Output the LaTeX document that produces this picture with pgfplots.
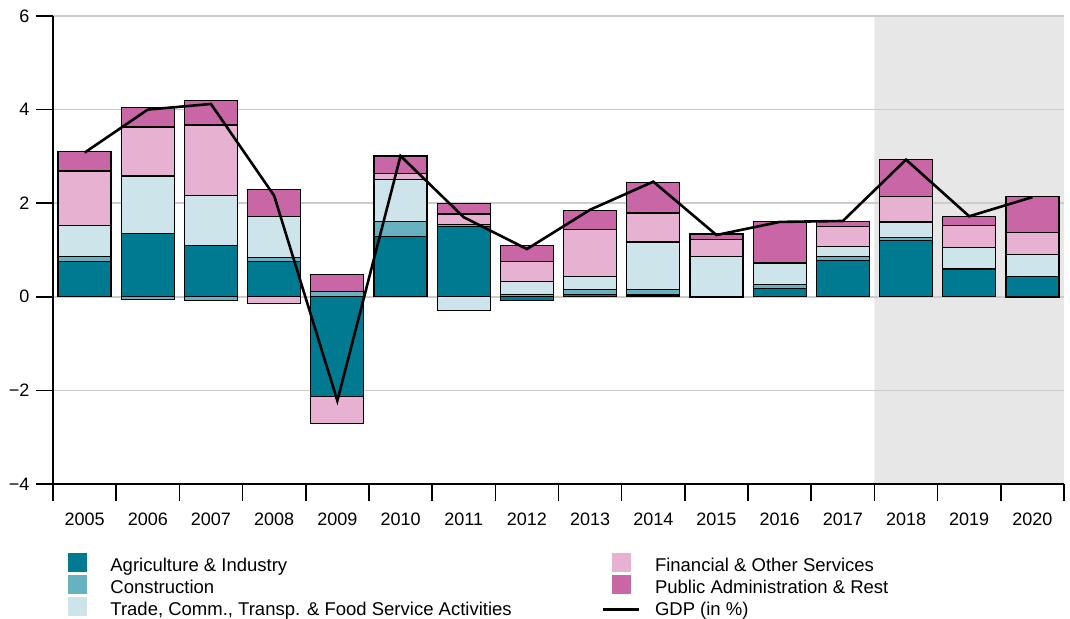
\documentclass[border=0pt]{standalone}
\usepackage{fontspec}
\setmainfont{Liberation Sans}
\usepackage{pgfplots}
\usepackage{pgfplotstable}
\pgfplotsset{compat=1.18}

\definecolor{agcol}{HTML}{007A91}
\definecolor{cocol}{HTML}{67B1C1}
\definecolor{trcol}{HTML}{CDE5EA}
\definecolor{ficol}{HTML}{E7B2D1}
\definecolor{pucol}{HTML}{C966A5}
\definecolor{gridgray}{HTML}{CCCCCC}
\definecolor{shade}{HTML}{E7E7E7}

% positive contributions
\pgfplotstableread{
x  ag    co    tr    fi    pu
0  0.75  0.11  0.66  1.17  0.41
1  1.36  0.00  1.22  1.05  0.42
2  1.09  0.00  1.07  1.51  0.52
3  0.76  0.08  0.87  0.00  0.59
4  0.00  0.11  0.00  0.00  0.36
5  1.28  0.33  0.89  0.14  0.37
6  1.50  0.04  0.00  0.23  0.22
7  0.00  0.05  0.28  0.43  0.33
8  0.05  0.10  0.28  1.00  0.41
9  0.04  0.12  1.01  0.62  0.65
10 0.00  0.00  0.86  0.37  0.11
11 0.17  0.09  0.45  0.01  0.89
12 0.78  0.08  0.22  0.42  0.11
13 1.20  0.07  0.33  0.54  0.79
14 0.59  0.01  0.45  0.47  0.20
15 0.43  0.00  0.48  0.46  0.77
}\postab

% negative contributions
\pgfplotstableread{
x  ag     co     tr     fi     pu
0  0.00   0.00   0.00   0.00   0.00
1  0.00  -0.06   0.00   0.00   0.00
2  0.00  -0.08   0.00   0.00   0.00
3  0.00   0.00   0.00  -0.15   0.00
4 -2.13   0.00   0.00  -0.57   0.00
5  0.00   0.00   0.00   0.00   0.00
6  0.00   0.00  -0.30   0.00   0.00
7 -0.08   0.00   0.00   0.00   0.00
8  0.00   0.00   0.00   0.00   0.00
9  0.00   0.00   0.00   0.00   0.00
10 -0.02  0.00   0.00   0.00   0.00
11 0.00   0.00   0.00   0.00   0.00
12 0.00   0.00   0.00   0.00   0.00
13 0.00   0.00   0.00   0.00   0.00
14 0.00   0.00   0.00   0.00   0.00
15 0.00  -0.02   0.00   0.00   0.00
}\negtab

% GDP growth
\pgfplotstableread{
x  gdp
0  3.08
1  4.00
2  4.12
3  2.16
4  -2.22
5  3.01
6  1.70
7  1.02
8  1.86
9  2.46
10 1.32
11 1.60
12 1.62
13 2.93
14 1.72
15 2.13
}\gdptab

\pgfplotsset{
  base/.style={
    width=1011pt, height=468pt, scale only axis,
    xmin=-0.5, xmax=15.5, ymin=-4, ymax=6,
    at={(0pt,0pt)}, anchor=south west,
  },
  barsty/.style={fill=#1, draw=black, line width=1.2pt},
}

\begin{document}
\begin{tikzpicture}

% shaded forecast region
\begin{axis}[base, hide axis]
  \addplot[fill=shade, draw=none] coordinates {(12.5,-4) (12.5,6) (15.5,6) (15.5,-4) (12.5,-4)};
\end{axis}

% main axis with positive stacks
\begin{axis}[base,
  ybar stacked, bar width=53pt,
  axis x line*=bottom, axis y line*=left,
  axis line style={line width=1.6pt, black},
  tick align=outside, major tick length=17pt,
  tick style={line width=1.6pt, black},
  xtick={-0.5,0.5,...,15.5},
  x tick label as interval,
  xticklabels={2005,2006,2007,2008,2009,2010,2011,2012,2013,2014,2015,2016,2017,2018,2019,2020},
  xticklabel shift=8pt,
  yticklabel shift=3pt,
  ytick={-4,-2,0,2,4,6},
  yticklabels={−4,−2,0,2,4,6},
  ymajorgrids, grid style={line width=1.5pt, gridgray},
  tick label style={font=\fontsize{18}{21.6}\selectfont},
  legend columns=2,
  legend cell align=left,
  legend style={at={(axis description cs:0.01434,-0.1474)}, anchor=north west,
    draw=none, fill=none, inner sep=0pt, outer sep=0pt,
    column sep=0pt, row sep=1pt,
    cells={anchor=base west},
    nodes={inner sep=0pt, text height=15pt, text depth=3pt},
    font=\fontsize{18.5}{22}\selectfont},
]
  \addplot[barsty=agcol, forget plot] table[x=x, y=ag] {\postab};
  \addplot[barsty=cocol, forget plot] table[x=x, y=co] {\postab};
  \addplot[barsty=trcol, forget plot] table[x=x, y=tr] {\postab};
  \addplot[barsty=ficol, forget plot] table[x=x, y=fi] {\postab};
  \addplot[barsty=pucol, forget plot] table[x=x, y=pu] {\postab};

  \addlegendimage{legend image code/.code={\fill[agcol] (-9pt,0pt) rectangle (9pt,18pt);}}
  \addlegendentry{\hspace*{24.5pt}\makebox[491pt][l]{Agriculture \& Industry}}
  \addlegendimage{legend image code/.code={\fill[ficol] (-9pt,0pt) rectangle (9pt,18pt);}}
  \addlegendentry{\hspace*{15pt}Financial \& Other Services}
  \addlegendimage{legend image code/.code={\fill[cocol] (-9pt,0pt) rectangle (9pt,18pt);}}
  \addlegendentry{\hspace*{24.5pt}\makebox[491pt][l]{Construction}}
  \addlegendimage{legend image code/.code={\fill[pucol] (-9pt,0pt) rectangle (9pt,18pt);}}
  \addlegendentry{\hspace*{15pt}Public Administration \& Rest}
  \addlegendimage{legend image code/.code={\fill[trcol] (-9pt,0pt) rectangle (9pt,18pt);}}
  \addlegendentry{\hspace*{24.5pt}\makebox[491pt][l]{Trade, Comm., Transp. \& Food Service Activities}}
  \addlegendimage{legend image code/.code={\draw[black, line width=2.6pt] (-18pt,6pt) -- (18pt,6pt);}}
  \addlegendentry{\hspace*{15pt}GDP (in \%)}
\end{axis}

% negative stacks
\begin{axis}[base, hide axis, ybar stacked, bar width=53pt]
  \addplot[barsty=agcol] table[x=x, y=ag] {\negtab};
  \addplot[barsty=cocol] table[x=x, y=co] {\negtab};
  \addplot[barsty=trcol] table[x=x, y=tr] {\negtab};
  \addplot[barsty=ficol] table[x=x, y=fi] {\negtab};
  \addplot[barsty=pucol] table[x=x, y=pu] {\negtab};
\end{axis}

% GDP line
\begin{axis}[base, hide axis]
  \addplot[black, line width=2.6pt, mark=none] table[x=x, y=gdp] {\gdptab};
\end{axis}

% frame of the page (invisible)
\path (-53pt,-134pt) rectangle (1017pt,484pt);
\end{tikzpicture}
\end{document}
